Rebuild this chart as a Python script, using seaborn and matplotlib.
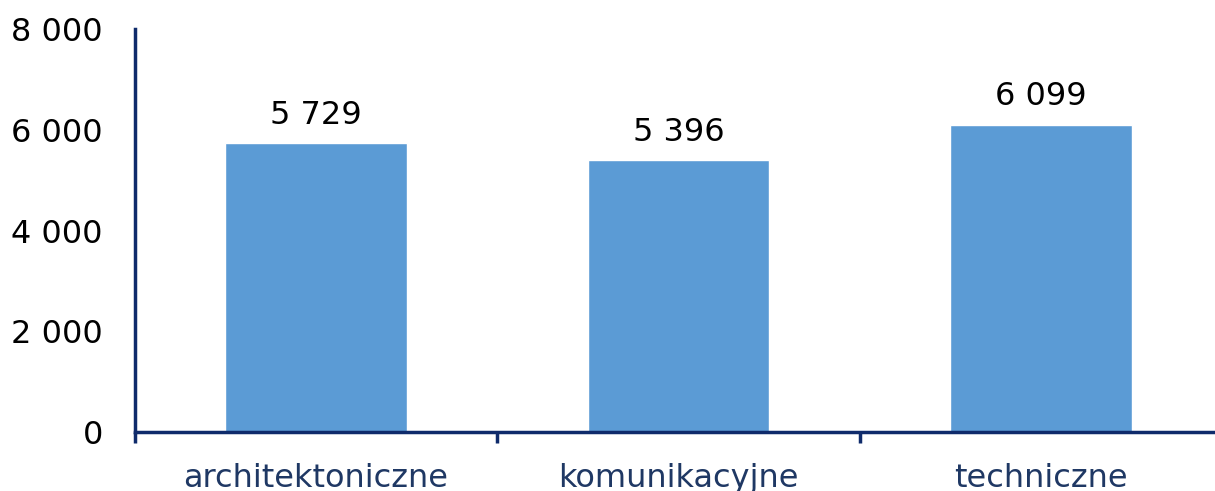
import matplotlib
matplotlib.use("Agg")
import matplotlib.pyplot as plt
import seaborn as sns
import pandas as pd
from matplotlib.ticker import FuncFormatter

# dane
kategorie = ["architektoniczne", "komunikacyjne", "techniczne"]
wartosci = [5729, 5396, 6099]
yticks = [0, 2000, 4000, 6000, 8000]

kolor_slupka = "#5B9BD5"
kolor_osi = "#0F2B6B"
kolor_etykiet = "#1F3864"

sns.set_theme(style="white")
plt.rcParams["font.family"] = ["DejaVu Sans"]

df = pd.DataFrame({"kategoria": kategorie, "wartosc": wartosci})

fig = plt.figure(figsize=(12.15, 4.91), dpi=100)
ax = fig.add_axes([0.111, 0.120, 0.895, 0.821])

sns.barplot(data=df, x="kategoria", y="wartosc", color=kolor_slupka,
            width=0.5, saturation=1, ax=ax)

fmt = lambda v: f"{int(v):,}".replace(",", " ")

for p, v in zip(ax.patches, wartosci):
    ax.annotate(fmt(v), (p.get_x() + p.get_width() / 2, v),
                xytext=(0, 9), textcoords="offset points",
                ha="center", va="bottom", fontsize=23, color="black")

ax.set_xlim(-0.5, 2.5)
ax.set_ylim(0, 8000)
ax.set_yticks(yticks)
ax.yaxis.set_major_formatter(FuncFormatter(lambda v, _: fmt(v)))
ax.tick_params(axis="y", left=False, length=0, labelsize=23, pad=23, labelcolor="black")

# znaczniki osi X pomiędzy kategoriami
ax.set_xticks([-0.5, 0.5, 1.5, 2.5])
ax.set_xticklabels([])
ax.set_xticks([0, 1, 2], minor=True)
ax.set_xticklabels(kategorie, minor=True)
ax.tick_params(axis="x", which="major", bottom=True, length=8, width=2.5,
               color=kolor_osi, direction="out")
ax.tick_params(axis="x", which="minor", bottom=True, length=0, labelsize=23,
               labelcolor=kolor_etykiet, pad=22)

ax.set_xlabel("")
ax.set_ylabel("")

for s in ["top", "right"]:
    ax.spines[s].set_visible(False)
for s in ["left", "bottom"]:
    ax.spines[s].set_color(kolor_osi)
    ax.spines[s].set_linewidth(2.5)

fig.savefig("out.png", dpi=100)
